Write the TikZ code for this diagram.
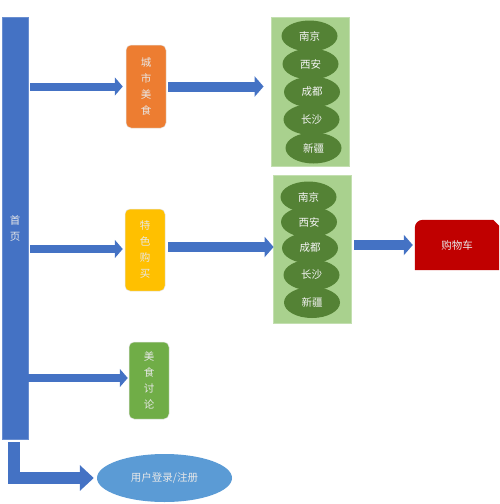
\documentclass[tikz,border=0pt]{standalone}
\usepackage{fontspec}
\newfontfamily\cjk{Noto Sans CJK SC}
\usetikzlibrary{arrows.meta,shapes.geometric,calc}
\definecolor{homeblue}{HTML}{4472C4}
\definecolor{orangebox}{HTML}{ED7D31}
\definecolor{yellowbox}{HTML}{FFC000}
\definecolor{greenbox}{HTML}{70AD47}
\definecolor{panelgreen}{HTML}{A9D18E}
\definecolor{darkgreen}{HTML}{548235}
\definecolor{cartred}{HTML}{C00000}
\definecolor{loginblue}{HTML}{5B9BD5}
\definecolor{txtgray}{HTML}{E8E8E8}
\tikzset{
  every node/.style={font=\cjk\fontsize{10.5}{16}\selectfont, text=txtgray, inner sep=0pt},
  vbox/.style={rectangle, rounded corners=5pt, minimum width=40pt, draw=white!80!gray, line width=0.5pt, align=center},
  panel/.style={rectangle, fill=panelgreen, draw=panelgreen!70!white, line width=0.8pt, minimum width=78pt},
  city/.style={ellipse, fill=darkgreen, minimum width=56pt, minimum height=31pt, text=white!92!gray},
  fat/.style={draw=homeblue, line width=8pt, -{Triangle[length=8pt,width=18pt]}},
  fatw/.style={draw=homeblue, line width=10pt, -{Triangle[length=9pt,width=20pt]}},
}
\begin{document}
\begin{tikzpicture}[x=1pt,y=-1pt]
\useasboundingbox (0,0) rectangle (500,504);
% main column
\node[rectangle, fill=homeblue, draw=homeblue!80!white, line width=0.6pt, minimum width=26pt, minimum height=422pt, align=center] (home) at (15,228) {首\\页};
% category boxes
\node[vbox, fill=orangebox, minimum height=83pt] (cs) at (146,86.5) {城\\市\\美\\食};
\node[vbox, fill=yellowbox, minimum height=82pt] (ts) at (145,250) {特\\色\\购\\买};
\node[vbox, fill=greenbox, minimum height=77pt] (md) at (149,380.5) {美\\食\\讨\\论};
% panels
\node[panel, minimum height=149pt] (p1) at (310,91.5) {};
\node[panel, minimum height=148pt] (p2) at (312,249) {};
\node[city] (c1a) at (309.5,36) {南京};
\node[city] (c1b) at (310.5,64) {西安};
\node[city] (c1c) at (312,92) {成都};
\node[city] (c1d) at (311.5,119.5) {长沙};
\node[city] (c1e) at (313.5,148) {新疆};
\node[city] (c2a) at (308.5,197) {南京};
\node[city] (c2b) at (309,222) {西安};
\node[city] (c2c) at (310,248) {成都};
\node[city] (c2d) at (311.5,275) {长沙};
\node[city] (c2e) at (312,302.5) {新疆};
% cart
\node[rectangle, minimum width=84pt, minimum height=50pt] (cart) at (457,245) {};
\fill[cartred] (cart.south west) [rounded corners=8pt] -- (cart.north west) [sharp corners] -- ($(cart.north east)+(-6,0)$) -- ($(cart.north east)+(0,6)$) -- (cart.south east) -- cycle;
\node[text=txtgray] at (cart.center) {购物车};
% login
\node[ellipse, fill=loginblue, minimum width=135pt, minimum height=48pt] (login) at (164.5,478) {用户登录/注册};
% arrows
\draw[fat, shorten <=2pt, shorten >=3pt] (home.east |- cs.west) -- (cs.west);
\draw[fatw, shorten <=2pt, shorten >=7pt] (cs.east) -- (cs.east -| p1.west);
\draw[fat, shorten <=2pt, shorten >=2pt] ($(home.east)+(0,21)$) -- ($(ts.west)+(0,-1)$);
\draw[fatw, shorten <=3pt, shorten >=-1pt] ($(ts.east)+(0,-3)$) -- ($(p2.west)+(0,-2)$);
\draw[fatw, shorten <=3pt, shorten >=2pt] ($(p2.east)+(0,-4)$) -- (cart.west);
\coordinate (mdin) at ($(md.west)+(0,-2.5)$);
\draw[fat, shorten <=0pt, shorten >=1pt] (home.east |- mdin) -- (mdin);
\coordinate (bend) at (14,478);
\draw[draw=homeblue, line width=12pt, line join=miter, -{Triangle[length=14pt,width=25pt]}, shorten <=3pt, shorten >=3pt] ($(home.south)+(-1,0)$) -- (bend) -- (login.west);
\end{tikzpicture}
\end{document}
